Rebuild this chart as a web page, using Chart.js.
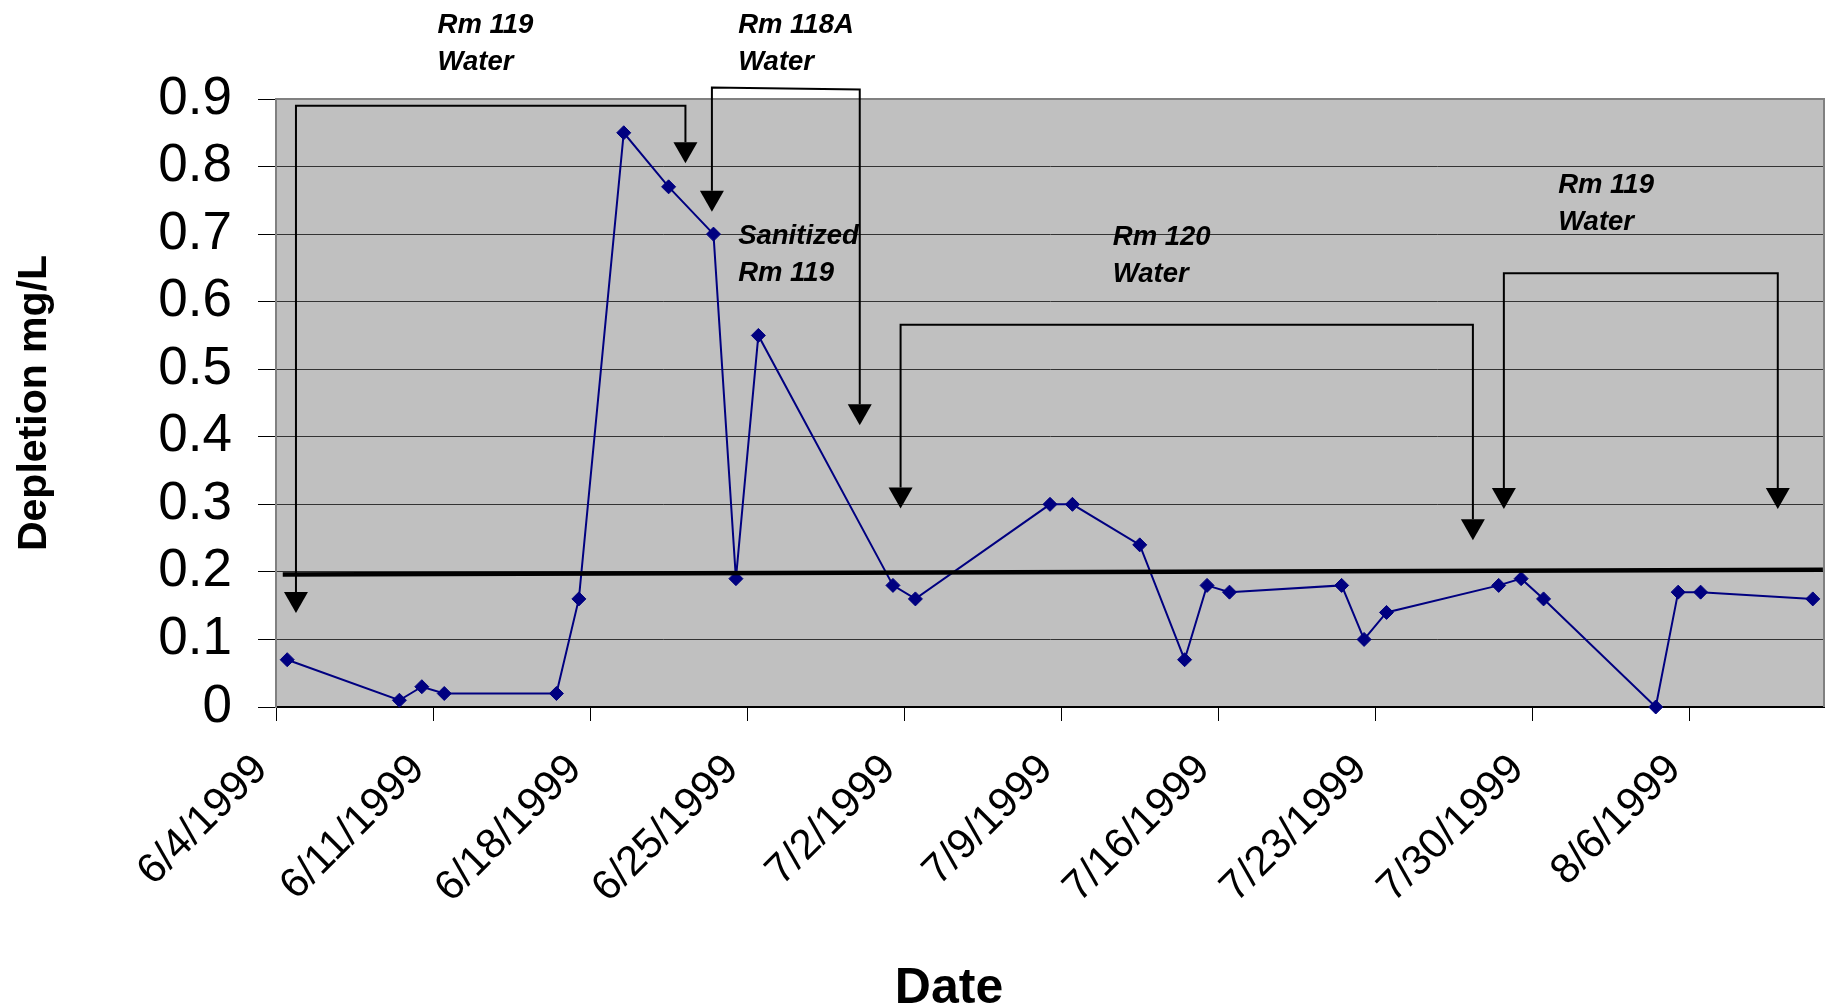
<!DOCTYPE html>
<html>
<head>
<meta charset="utf-8">
<title>Depletion mg/L</title>
<script src="https://cdn.jsdelivr.net/npm/chart.js"></script>
<style>
  html, body { margin: 0; padding: 0; background: #fff; }
  #wrap { width: 1832px; height: 1007px; position: relative; }
</style>
</head>
<body>
<div id="wrap"><canvas id="chart"></canvas></div>
<script>
// sample dates and measured depletion
const sampleDates = [
  "6/4/1999", "6/9/1999", "6/10/1999", "6/11/1999", "6/16/1999", "6/17/1999",
  "6/19/1999", "6/21/1999", "6/23/1999", "6/24/1999", "6/25/1999", "7/1/1999",
  "7/2/1999", "7/8/1999", "7/9/1999", "7/12/1999", "7/14/1999", "7/15/1999",
  "7/16/1999", "7/21/1999", "7/22/1999", "7/23/1999", "7/28/1999", "7/29/1999",
  "7/30/1999", "8/4/1999", "8/5/1999", "8/6/1999", "8/11/1999"
];
const depletion = [
  0.07, 0.01, 0.03, 0.02, 0.02, 0.16,
  0.85, 0.77, 0.70, 0.19, 0.55, 0.18,
  0.16, 0.30, 0.30, 0.24, 0.07, 0.18,
  0.17, 0.18, 0.10, 0.14, 0.18, 0.19,
  0.16, 0.00, 0.17, 0.17, 0.16
];

// the hand drawn limit line (days from 6/4, value)
const limitDays = [0.3, 68.95];
const limitValues = [0.196, 0.203];

const xTickLabels = [
  "6/4/1999", "6/11/1999", "6/18/1999", "6/25/1999", "7/2/1999",
  "7/9/1999", "7/16/1999", "7/23/1999", "7/30/1999", "8/6/1999"
];
const yTickValues = [0, 0.1, 0.2, 0.3, 0.4, 0.5, 0.6, 0.7, 0.8, 0.9];

// callout arrows: left foot, right foot and the top bar, in days / mg/L
const brackets = [
  { x0: 0.89, y0: 0.139, x1: 18.25, y1: 0.805, top0: 0.890, top1: 0.890 },
  { x0: 19.43, y0: 0.733, x1: 26.02, y1: 0.417, top0: 0.917, top1: 0.914 },
  { x0: 27.84, y0: 0.294, x1: 53.35, y1: 0.247, top0: 0.566, top1: 0.566 },
  { x0: 54.73, y0: 0.293, x1: 66.94, y1: 0.293, top0: 0.642, top1: 0.642 }
];
const notes = [
  { lines: ["Rm 119", "Water"], x: 7.2, y: 0.998 },
  { lines: ["Rm 118A", "Water"], x: 20.6, y: 0.998 },
  { lines: ["Sanitized", "Rm 119"], x: 20.6, y: 0.686 },
  { lines: ["Rm 120", "Water"], x: 37.3, y: 0.684 },
  { lines: ["Rm 119", "Water"], x: 57.15, y: 0.761 }
];

const START = Date.UTC(1999, 5, 4);
function dayOf(s) {
  const [m, d, y] = s.split("/").map(Number);
  return (Date.UTC(y, m - 1, d) - START) / 86400000;
}

Chart.defaults.font.family = "'Liberation Sans', Arial, sans-serif";
Chart.defaults.color = "#000";

const shapes = {
  id: "shapes",
  beforeDraw(chart) {
    const { ctx, chartArea: a } = chart;
    ctx.save();
    ctx.fillStyle = "#c0c0c0";
    ctx.fillRect(a.left, a.top, a.right - a.left, a.bottom - a.top);
    ctx.restore();
  },
  afterDatasetsDraw(chart) {
    const { ctx, chartArea: a, scales: { x, y } } = chart;
    ctx.save();
    // plot frame, top and right
    ctx.strokeStyle = "#808080";
    ctx.lineWidth = 2;
    ctx.beginPath();
    ctx.moveTo(a.left, a.top);
    ctx.lineTo(a.right, a.top);
    ctx.lineTo(a.right, a.bottom);
    ctx.stroke();

    const head = 21, half = 12;
    const arrowHead = (px, py) => {
      ctx.beginPath();
      ctx.moveTo(px, py);
      ctx.lineTo(px - half, py - head);
      ctx.lineTo(px + half, py - head);
      ctx.closePath();
      ctx.fill();
    };
    ctx.strokeStyle = "#000";
    ctx.fillStyle = "#000";
    ctx.lineWidth = 2;
    brackets.forEach(b => {
      const X0 = x.getPixelForValue(b.x0), X1 = x.getPixelForValue(b.x1);
      const Y0 = y.getPixelForValue(b.y0), Y1 = y.getPixelForValue(b.y1);
      ctx.beginPath();
      ctx.moveTo(X0, Y0 - head);
      ctx.lineTo(X0, y.getPixelForValue(b.top0));
      ctx.lineTo(X1, y.getPixelForValue(b.top1));
      ctx.lineTo(X1, Y1 - head);
      ctx.stroke();
      arrowHead(X0, Y0);
      arrowHead(X1, Y1);
    });

    ctx.font = "italic bold 27.5px 'Liberation Sans', Arial, sans-serif";
    ctx.textAlign = "left";
    ctx.textBaseline = "alphabetic";
    notes.forEach(n => {
      const px = x.getPixelForValue(n.x), py = y.getPixelForValue(n.y);
      n.lines.forEach((t, i) => ctx.fillText(t, px, py + i * 37));
    });
    ctx.restore();
  }
};

new Chart(document.getElementById("chart"), {
  type: "line",
  data: {
    datasets: [{
      label: "Depletion",
      data: sampleDates.map((d, i) => ({ x: dayOf(d) + 0.5, y: depletion[i] })),
      borderColor: "#000080",
      borderWidth: 2,
      pointStyle: "rectRot",
      pointRadius: 7,
      pointBackgroundColor: "#000080",
      pointBorderColor: "#000080",
      pointBorderWidth: 1,
      tension: 0,
      clip: false
    }, {
      label: "Limit",
      data: limitDays.map((d, i) => ({ x: d, y: limitValues[i] })),
      borderColor: "#000",
      borderWidth: 4.5,
      pointRadius: 0,
      order: -1
    }]
  },
  options: {
    animation: false,
    responsive: true,
    maintainAspectRatio: false,
    layout: { padding: { left: 73, right: 7, top: 99, bottom: 0 } },
    scales: {
      x: {
        type: "linear",
        min: 0,
        max: 69,
        afterBuildTicks: s => { s.ticks = xTickLabels.map(t => ({ value: dayOf(t) })); },
        afterFit: s => { s.height = 257; },
        ticks: {
          autoSkip: false,
          minRotation: 45,
          maxRotation: 45,
          padding: 24,
          labelOffset: -15,
          font: { size: 42 },
          color: "#000",
          callback: (v, i) => xTickLabels[i]
        },
        grid: { drawOnChartArea: false, tickLength: 14, color: "#000" },
        border: { color: "#000", width: 2 }
      },
      y: {
        min: 0,
        max: 0.9,
        afterBuildTicks: s => { s.ticks = yTickValues.map(v => ({ value: v })); },
        afterFit: s => { s.width = 203; },
        ticks: {
          padding: 26,
          font: { size: 53 },
          color: "#000",
          callback: v => String(v)
        },
        grid: { color: "#333", tickColor: "#000", tickLength: 18 },
        border: { color: "#808080", width: 2 },
        title: {
          display: true,
          text: "Depletion mg/L",
          color: "#000",
          font: { size: 41, weight: "bold", lineHeight: 1 },
          padding: { top: -58.5, bottom: 0 }
        }
      }
    },
    plugins: {
      legend: { display: false },
      tooltip: { enabled: false },
      title: {
        display: true,
        position: "bottom",
        fullSize: true,
        text: "Date",
        color: "#000",
        font: { size: 50, weight: "bold", lineHeight: 1 },
        padding: { top: 0, bottom: -7 }
      }
    }
  },
  plugins: [shapes]
});
</script>
</body>
</html>
